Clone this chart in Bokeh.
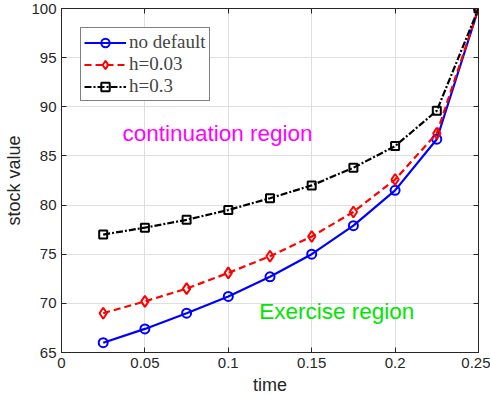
from bokeh.plotting import figure
from bokeh.models import LinearAxis, Range1d, FixedTicker, Legend, LegendItem, Label
from bokeh.embed import file_html
from bokeh.resources import INLINE

time = [0.025, 0.05, 0.075, 0.1, 0.125, 0.15, 0.175, 0.2, 0.225, 0.25]
no_default = [66.0, 67.4, 69.0, 70.7, 72.7, 75.0, 77.9, 81.5, 86.7, 100.0]
h_003 = [69.0, 70.2, 71.5, 73.1, 74.8, 76.8, 79.3, 82.6, 87.3, 100.0]
h_03 = [77.0, 77.7, 78.5, 79.5, 80.7, 82.0, 83.8, 86.0, 89.6, 100.0]
x_ticks = [0, 0.05, 0.1, 0.15, 0.2, 0.25]
y_ticks = [65, 70, 75, 80, 85, 90, 95, 100]

AX = "#262626"
p = figure(width=490, height=399, output_backend="svg", toolbar_location=None,
           x_range=Range1d(0, 0.25), y_range=Range1d(65, 100),
           min_border_left=61, min_border_right=12, min_border_top=8, min_border_bottom=47)
p.outline_line_color = AX
p.xaxis.ticker = FixedTicker(ticks=x_ticks)
p.yaxis.ticker = FixedTicker(ticks=y_ticks)
p.xaxis.major_label_overrides = {0: "0", 0.05: "0.05", 0.1: "0.1", 0.15: "0.15", 0.2: "0.2", 0.25: "0.25"}
p.xgrid.ticker = FixedTicker(ticks=x_ticks)
p.ygrid.ticker = FixedTicker(ticks=y_ticks)
p.grid.grid_line_color = "#dfdfdf"
p.xaxis.axis_label = "time"
p.yaxis.axis_label = "stock value"

for ax in [p.xaxis[0], p.yaxis[0]]:
    ax.axis_line_color = AX
    ax.major_tick_line_color = AX
    ax.major_tick_in = 5
    ax.major_tick_out = 0
    ax.minor_tick_line_color = None
    ax.major_label_text_font = "Liberation Sans"
    ax.major_label_text_font_size = "15px"
    ax.major_label_text_color = AX
    ax.axis_label_text_font = "Liberation Sans"
    ax.axis_label_text_font_size = "18px"
    ax.axis_label_text_font_style = "normal"
    ax.axis_label_text_color = AX
p.xaxis.major_label_standoff = 5
p.xaxis.axis_label_standoff = 4
p.yaxis.major_label_standoff = 5
p.yaxis.axis_label_standoff = 4

for side, tk in [("right", y_ticks), ("above", x_ticks)]:
    a = LinearAxis(ticker=FixedTicker(ticks=tk),
                   major_label_overrides={t: "" for t in tk},
                   axis_line_color=AX, major_tick_line_color=AX, major_tick_in=5,
                   major_tick_out=0, minor_tick_line_color=None, major_label_standoff=0)
    p.add_layout(a, side)

l1 = p.line(time, no_default, line_color="#0000ff", line_width=2.2)
s1 = p.scatter(time, no_default, marker="circle", size=9, fill_color=None,
               line_color="#0000ff", line_width=2)
l2 = p.line(time, h_003, line_color="#ff0000", line_width=2.2, line_dash="7 4")
s2 = p.scatter(time, h_003, marker="diamond", size=11, fill_color=None,
               line_color="#ff0000", line_width=2)
l3 = p.line(time, h_03, line_color="#000000", line_width=2.2, line_dash="7 2 2 2")
s3 = p.scatter(time, h_03, marker="square", size=8, fill_color=None,
               line_color="#000000", line_width=2)

legend = Legend(items=[LegendItem(label="no default", renderers=[l1, s1]),
                       LegendItem(label="h=0.03", renderers=[l2, s2]),
                       LegendItem(label="h=0.3", renderers=[l3, s3])],
                location="top_left", label_text_font="Liberation Serif",
                label_text_font_size="19px", border_line_color="#000000",
                border_line_width=1, background_fill_alpha=1, glyph_width=42,
                spacing=0, padding=3, margin=19, label_standoff=3, glyph_height=21,
                label_height=21)
p.add_layout(legend)

p.add_layout(Label(x=0.0935, y=87.3, text="continuation region", text_align="center",
                   text_baseline="middle", text_color="#ff00ff",
                   text_font="Liberation Sans", text_font_size="22.5px"))
p.add_layout(Label(x=0.165, y=69.2, text="Exercise region", text_align="center",
                   text_baseline="middle", text_color="#00e600",
                   text_font="Liberation Sans", text_font_size="22.5px"))

open("out.html", "w").write(file_html(p, INLINE))
